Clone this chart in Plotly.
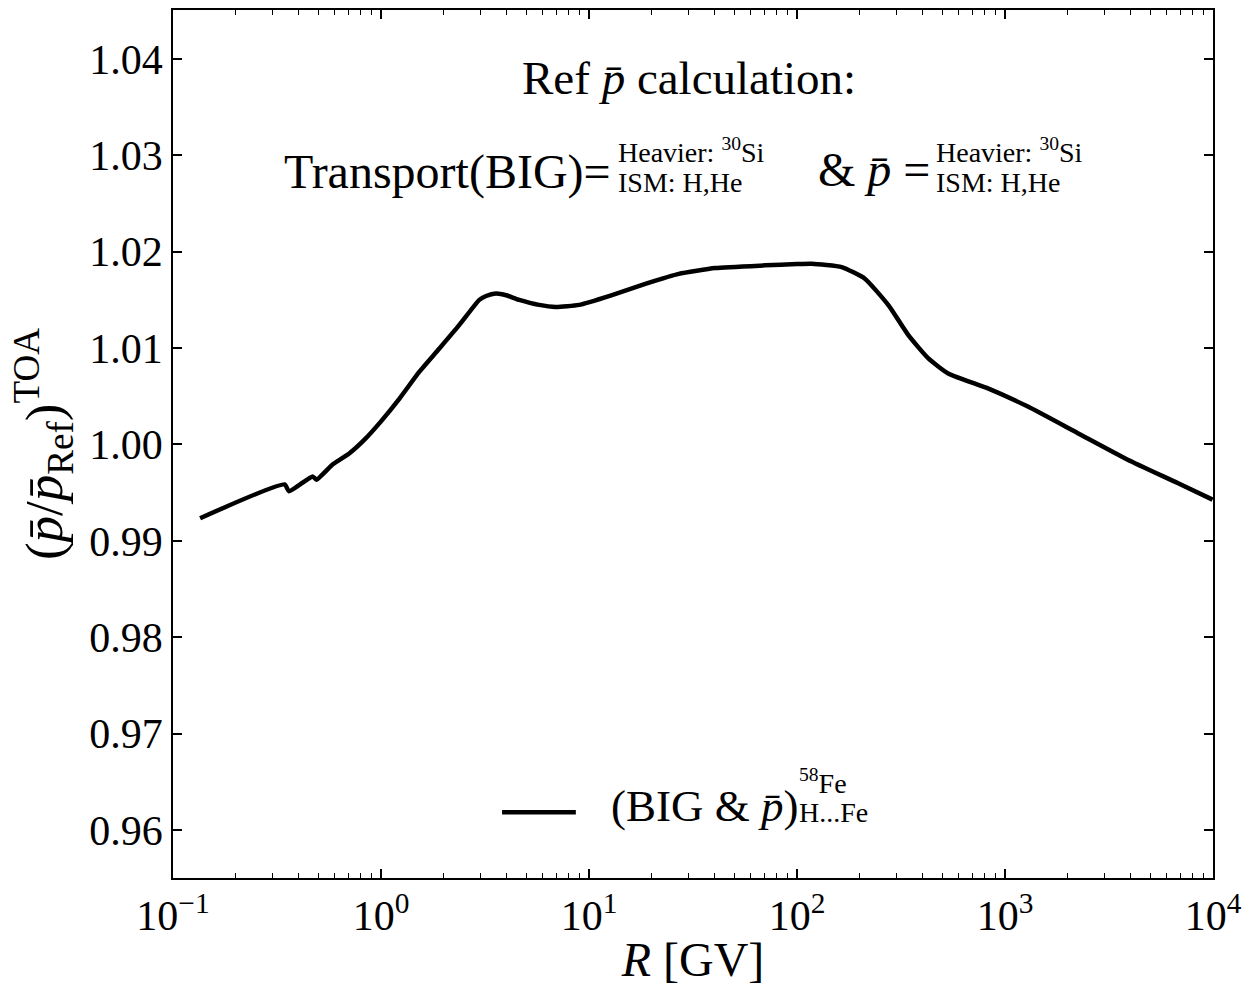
import plotly.graph_objects as go

# ---- data ----
rigidity_gv = [0.135, 0.344, 0.361, 0.469, 0.489, 0.585, 0.706, 0.833, 1.0, 1.227,
               1.53, 1.909, 2.38, 2.97, 3.2, 3.57, 4.0, 4.62, 5.75, 6.92, 8.96,
               12.9, 18.8, 27.0, 40.5, 70.3, 100.0, 117.7, 164.0, 212.0, 275.0,
               343.0, 428.0, 533.0, 828.0, 1288.0, 2239.0, 3890.0, 6760.0, 9950.0]
ratio_toa = [0.99235, 0.99586, 0.99514, 0.99669, 0.99635, 0.99793, 0.99910, 1.00050,
             1.00240, 1.00476, 1.00755, 1.00996, 1.01240, 1.01500, 1.01540, 1.01565,
             1.01548, 1.01500, 1.01448, 1.01427, 1.01448, 1.01550, 1.01668, 1.01770,
             1.01830, 1.01858, 1.01872, 1.01875, 1.01840, 1.01720, 1.01445, 1.01134,
             1.00893, 1.00737, 1.00582, 1.00393, 1.00117, 0.99842, 0.99600, 0.99428]

x_tick_vals = [0.1, 1, 10, 100, 1000, 10000]
x_tick_text = ["10<sup>\u22121</sup>", "10<sup>0</sup>", "10<sup>1</sup>",
               "10<sup>2</sup>", "10<sup>3</sup>", "10<sup>4</sup>"]
y_tick_vals = [0.96, 0.97, 0.98, 0.99, 1.00, 1.01, 1.02, 1.03, 1.04]
y_tick_text = ["0.96", "0.97", "0.98", "0.99", "1.00", "1.01", "1.02", "1.03", "1.04"]

series_name = "(BIG & p\u0304)"

W, H = 1250, 988
L, R, T, B = 173, 34, 8, 110
FONT = "Liberation Serif"
PB = "<i>p\u0304</i>"

def px(x):
    return (x - L) / (W - L - R)

def py(y):
    return (H - B - y) / (H - T - B)

minor_vals = [m * 10 ** e for e in range(-1, 4) for m in range(2, 10)]

fig = go.Figure()
fig.add_trace(go.Scatter(
    x=rigidity_gv, y=ratio_toa, mode="lines", name=series_name,
    line=dict(color="black", width=4.5, shape="spline", smoothing=0.5),
    showlegend=False,
))

axis_common = dict(
    showline=True, linecolor="black", linewidth=1.8, mirror="ticks",
    ticks="inside", ticklen=9, tickwidth=1.5, tickcolor="black",
    showgrid=False, zeroline=False,
    tickfont=dict(family=FONT, size=42, color="black"),
)

fig.update_xaxes(
    type="log", range=[-1, 4], tickmode="array",
    tickvals=x_tick_vals, ticktext=x_tick_text,
    minor=dict(tickmode="array", tickvals=minor_vals, ticks="inside",
               ticklen=5, tickwidth=1.2, tickcolor="black", showgrid=False),
    title=dict(text="<i>R</i> [GV]", font=dict(family=FONT, size=48, color="black"),
               standoff=4),
    **axis_common,
)
fig.update_yaxes(
    range=[0.95503, 1.04507], tickmode="array",
    tickvals=y_tick_vals, ticktext=y_tick_text,
    title=dict(text="(" + PB + "/" + PB + "<sub>Ref</sub>)<sup>TOA</sup>",
               font=dict(family=FONT, size=53, color="black"), standoff=10),
    **axis_common,
)

ann = []
def add_text(text, x, y, size, xanchor="left", yanchor="middle"):
    ann.append(dict(text=text, x=px(x), y=py(y), xref="paper", yref="paper",
                    xanchor=xanchor, yanchor=yanchor, showarrow=False,
                    font=dict(family=FONT, size=size, color="black")))

add_text("Ref " + PB + " calculation:", 690, 76, 47, xanchor="center")
add_text("Transport(BIG)=", 614, 170, 48, xanchor="right")
add_text("Heavier: <sup>30</sup>Si", 617, 168, 28, yanchor="bottom")
add_text("ISM: H,He", 617, 163, 28, yanchor="top")
add_text("& " + PB + " =", 934, 168, 48, xanchor="right")
add_text("Heavier: <sup>30</sup>Si", 936, 168, 28, yanchor="bottom")
add_text("ISM: H,He", 936, 163, 28, yanchor="top")

# manual legend
add_text(series_name.replace("p\u0304", PB), 610, 806, 45)
add_text("<sup>58</sup>Fe", 799, 801, 28, yanchor="bottom")
add_text("H...Fe", 799, 795, 28, yanchor="top")

fig.add_shape(type="line", xref="paper", yref="paper",
              x0=px(503), x1=px(577), y0=py(812), y1=py(812),
              line=dict(color="black", width=4.5))

fig.update_layout(
    width=W, height=H, margin=dict(l=L, r=R, t=T, b=B),
    paper_bgcolor="white", plot_bgcolor="white",
    font=dict(family=FONT, color="black"),
    annotations=ann, showlegend=False,
)

fig.write_html("out.html")
